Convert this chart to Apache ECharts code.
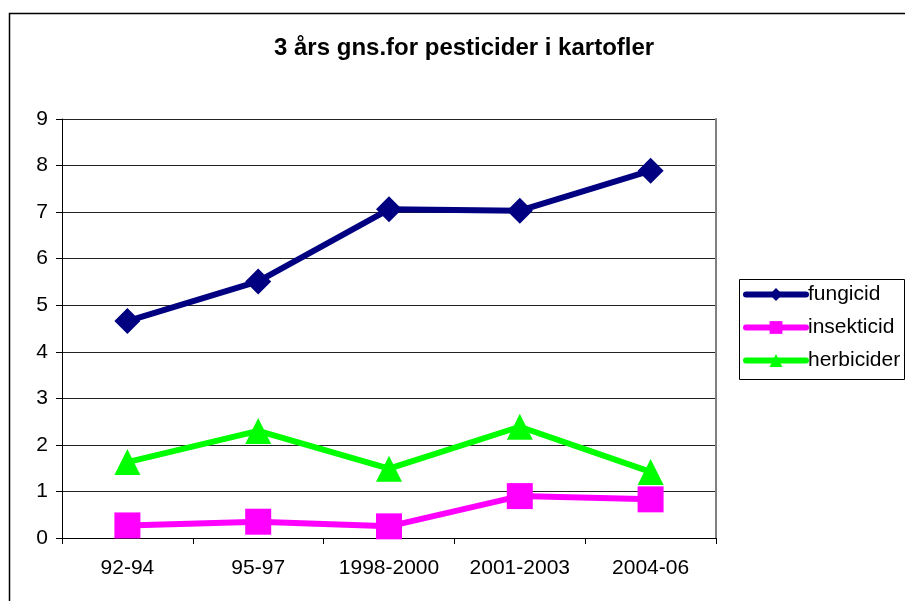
<!DOCTYPE html>
<html>
<head>
<meta charset="utf-8">
<script src="https://cdn.jsdelivr.net/npm/echarts@6/dist/echarts.min.js"></script>
<style>
    html, body { margin: 0; padding: 0; background: #fff; }
    #chart { width: 905px; height: 601px; }
</style>
</head>
<body>
<div id="chart"></div>
<script>
    var categories = ['92-94', '95-97', '1998-2000', '2001-2003', '2004-06'];
    var fungicid = [4.66, 5.51, 7.06, 7.03, 7.89];
    var insekticid = [0.27, 0.35, 0.25, 0.90, 0.83];
    var herbicider = [1.63, 2.30, 1.49, 2.39, 1.42];
    var yTicks = [0, 1, 2, 3, 4, 5, 6, 7, 8, 9];

    var font = "'Liberation Sans', Arial, sans-serif";

    var chart = echarts.init(document.getElementById('chart'));

    function lineSeries(name, data, color, symbol) {
        return {
            name: name,
            type: 'line',
            data: data,
            symbol: symbol,
            symbolSize: 26,
            lineStyle: { color: color, width: 6 },
            itemStyle: { color: color },
            animation: false
        };
    }

    chart.setOption({
        backgroundColor: '#fff',
        title: {
            text: '3 års gns.for pesticider i kartofler',
            left: 269,
            top: 31,
            textStyle: { fontFamily: font, fontSize: 24, fontWeight: 'bold', color: '#000' }
        },
        legend: {
            orient: 'vertical',
            left: 743,
            top: 284,
            padding: 0,
            itemWidth: 60,
            itemHeight: 16,
            itemGap: 12,
            lineStyle: { width: 6, cap: 'round' },
            textStyle: { fontFamily: font, fontSize: 21, color: '#000', padding: [0, 0, 0, -3] },
            data: ['fungicid', 'insekticid', 'herbicider']
        },
        graphic: [
            {
                type: 'rect',
                shape: { x: 9.5, y: 13.5, width: 1000, height: 1000 },
                style: { fill: null, stroke: '#000', lineWidth: 1.5 },
                silent: true
            },
            {
                type: 'rect',
                shape: { x: 739.5, y: 279.5, width: 165, height: 100 },
                style: { fill: null, stroke: '#000', lineWidth: 1 },
                silent: true
            }
        ],
        grid: { left: 62, right: 189, top: 119, bottom: 63 },
        xAxis: {
            type: 'category',
            data: categories,
            boundaryGap: true,
            axisLine: { lineStyle: { color: '#000', width: 1 } },
            axisTick: { show: true, length: 6, lineStyle: { color: '#000' } },
            axisLabel: { fontFamily: font, fontSize: 21, color: '#000', margin: 20 },
            splitLine: { show: false }
        },
        yAxis: [
            {
                type: 'value',
                min: yTicks[0],
                max: yTicks[yTicks.length - 1],
                interval: 1,
                axisLine: { show: true, lineStyle: { color: '#000', width: 1 } },
                axisTick: { show: true, length: 6, lineStyle: { color: '#000' } },
                axisLabel: { fontFamily: font, fontSize: 21, color: '#000', margin: 14 },
                splitLine: { show: true, lineStyle: { color: '#222', width: 1 } }
            },
            {
                type: 'value',
                position: 'right',
                min: 0,
                max: 9,
                interval: 1,
                axisLine: { show: true, lineStyle: { color: '#808080', width: 2 } },
                axisTick: { show: false },
                axisLabel: { show: false },
                splitLine: { show: false }
            }
        ],
        series: [
            lineSeries('fungicid', fungicid, '#000080', 'diamond'),
            lineSeries('insekticid', insekticid, '#FF00FF', 'rect'),
            lineSeries('herbicider', herbicider, '#00FF00', 'triangle')
        ]
    });
</script>
</body>
</html>
